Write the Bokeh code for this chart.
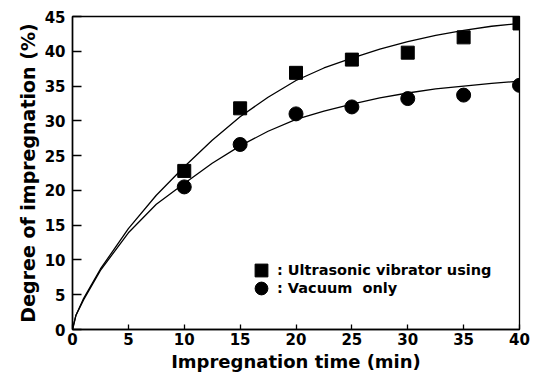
from bokeh.plotting import figure
from bokeh.models import Range1d, FixedTicker, Legend, LegendItem
from bokeh.embed import file_html
from bokeh.resources import INLINE

# measured data
time_min = [10, 15, 20, 25, 30, 35, 40]
ultrasonic = [22.8, 31.8, 36.9, 38.8, 39.8, 42.0, 44.0]
vacuum = [20.5, 26.6, 31.0, 32.0, 33.2, 33.7, 35.1]

# fitted curves
curve_t = [0, 0.3, 1, 2.5, 5, 7.5, 10, 12.5, 15, 17.5, 20, 22.5, 25, 27.5, 30, 32.5, 35, 37.5, 40]
curve_ultrasonic = [0, 2.0, 4.5, 8.7, 14.5, 19.3, 23.4, 27.2, 30.6, 33.4, 35.8, 37.6, 39.0, 40.3, 41.4, 42.3, 43.0, 43.6, 44.0]
curve_vacuum = [0, 2.0, 4.3, 8.5, 13.9, 18.0, 21.0, 23.9, 26.4, 28.5, 30.2, 31.4, 32.4, 33.3, 34.0, 34.6, 35.0, 35.4, 35.7]

x_ticks = [0, 5, 10, 15, 20, 25, 30, 35, 40]
y_ticks = [0, 5, 10, 15, 20, 25, 30, 35, 40, 45]
legend_labels = [": Ultrasonic vibrator using", ": Vacuum  only"]

p = figure(width=535, height=376, output_backend="svg", toolbar_location=None,
           x_range=Range1d(0, 40), y_range=Range1d(0, 45),
           min_border_left=72, min_border_right=16, min_border_top=16, min_border_bottom=47)

p.xgrid.visible = False
p.ygrid.visible = False
p.outline_line_color = "black"
p.outline_line_width = 1.3
p.background_fill_color = "white"
p.border_fill_color = "white"

p.line(curve_t, curve_ultrasonic, line_color="black", line_width=1.3)
p.line(curve_t, curve_vacuum, line_color="black", line_width=1.3)

sq = p.scatter(time_min, ultrasonic, marker="square", size=13, fill_color="black", line_color="black")
ci = p.scatter(time_min, vacuum, marker="circle", size=14, fill_color="black", line_color="black")

for ax, ticks in ((p.xaxis[0], x_ticks), (p.yaxis[0], y_ticks)):
    ax.ticker = FixedTicker(ticks=ticks)
    ax.minor_tick_line_color = None
    ax.major_tick_out = 0
    ax.axis_line_width = 1.5
    ax.major_tick_line_width = 1.3
    ax.major_label_text_font = "DejaVu Sans"
    ax.major_label_text_font_style = "bold"
    ax.major_label_text_font_size = "15px"
    ax.major_label_text_color = "black"
    ax.axis_label_text_font = "DejaVu Sans"
    ax.axis_label_text_font_style = "bold"
    ax.axis_label_text_color = "black"

p.xaxis[0].major_tick_in = 5
p.yaxis[0].major_tick_in = 9
p.xaxis[0].major_label_standoff = 3
p.yaxis[0].major_label_standoff = 7
p.xaxis[0].axis_label = "Impregnation time (min)"
p.yaxis[0].axis_label = "Degree of impregnation (%)"
p.xaxis[0].axis_label_text_font_size = "18px"
p.yaxis[0].axis_label_text_font_size = "19px"
p.xaxis[0].axis_label_standoff = 3
p.yaxis[0].axis_label_standoff = 3

for label, rend, loc in ((legend_labels[0], sq, (173, 43)), (legend_labels[1], ci, (173, 25))):
    lg = Legend(items=[LegendItem(label=label, renderers=[rend])],
                location=loc, glyph_width=32, glyph_height=32,
                label_standoff=0, padding=0, margin=0, border_line_color=None,
                background_fill_alpha=0, label_text_font="DejaVu Sans",
                label_text_color="black",
                label_text_font_style="bold", label_text_font_size="14.5px", label_height=17)
    p.add_layout(lg)

open("out.html", "w").write(file_html(p, INLINE))
